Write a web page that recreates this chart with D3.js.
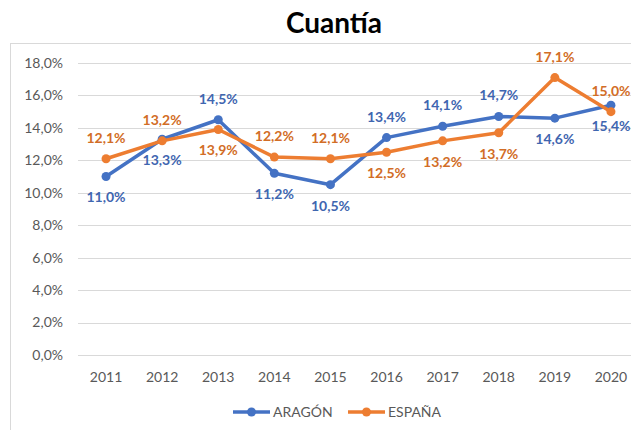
<!DOCTYPE html>
<html>
<head>
<meta charset="utf-8">
<script src="https://cdn.jsdelivr.net/npm/d3@7"></script>
<style>
  body { margin: 0; background: #fff; }
  svg { display: block; font-family: Lato, "Noto Sans", sans-serif; }
</style>
</head>
<body>
<div id="chart"></div>
<script>
//chart data
const years = ['2011','2012','2013','2014','2015','2016','2017','2018','2019','2020'];
const aragon = [11.0, 13.3, 14.5, 11.2, 10.5, 13.4, 14.1, 14.7, 14.6, 15.4];
const espana = [12.1, 13.2, 13.9, 12.2, 12.1, 12.5, 13.2, 13.7, 17.1, 15.0];
//label placement: 1 = above, -1 = below
const aragonLabelPos = [-1, -1, 1, -1, -1, 1, 1, 1, -1, -1];
const espanaLabelPos = [1, 1, -1, 1, 1, -1, -1, -1, 1, 1];
const yTicks = [0, 2, 4, 6, 8, 10, 12, 14, 16, 18];

const W = 631, H = 430;
const fmt = v => d3.format('.1f')(v).replace('.', ',') + '%';

const svg = d3.select('#chart').append('svg')
    .attr('width', W).attr('height', H);

//chart area border
svg.append('rect')
    .attr('x', 10.5).attr('y', 43.5)
    .attr('width', 640).attr('height', 400)
    .attr('fill', 'none').attr('stroke', '#d9d9d9');

//title
svg.append('text')
    .attr('x', 334).attr('y', 33)
    .attr('text-anchor', 'middle')
    .style('font-size', '28px').style('font-weight', 'bold')
    .attr('fill', '#000')
    .text('Cuantía');

const x = d3.scalePoint().domain(years).range([78, 639]).padding(0.5);
const y = d3.scaleLinear().domain([0, 18]).range([355, 63]);

//gridlines
svg.append('g').selectAll('line')
    .data(yTicks)
  .enter().append('line')
    .attr('x1', 78).attr('x2', 640)
    .attr('y1', d => Math.round(y(d)) + 0.5)
    .attr('y2', d => Math.round(y(d)) + 0.5)
    .attr('stroke', '#d9d9d9').attr('stroke-width', 1);

//y axis labels
svg.append('g').selectAll('text')
    .data(yTicks)
  .enter().append('text')
    .attr('x', 63).attr('y', d => y(d))
    .attr('dy', '0.35em')
    .attr('text-anchor', 'end')
    .style('font-size', '14px')
    .attr('fill', '#595959')
    .text(d => fmt(d));

//x axis labels
svg.append('g').selectAll('text')
    .data(years)
  .enter().append('text')
    .attr('x', d => x(d)).attr('y', 377)
    .attr('dy', '0.35em')
    .attr('text-anchor', 'middle')
    .style('font-size', '14px')
    .attr('fill', '#595959')
    .text(d => d);

const series = [
    { name: 'ARAGÓN', values: aragon, pos: aragonLabelPos, color: '#4472c4', labelColor: '#3f66b0' },
    { name: 'ESPAÑA', values: espana, pos: espanaLabelPos, color: '#ed7d31', labelColor: '#d26d26' }
];

const line = d3.line()
    .x((d, i) => x(years[i]))
    .y(d => y(d));

series.forEach(function(s) {
    const g = svg.append('g');
    g.append('path')
        .attr('d', line(s.values))
        .attr('fill', 'none')
        .attr('stroke', s.color)
        .attr('stroke-width', 3.5)
        .attr('stroke-linejoin', 'round');
    g.selectAll('circle')
        .data(s.values)
      .enter().append('circle')
        .attr('cx', (d, i) => x(years[i]))
        .attr('cy', d => y(d))
        .attr('r', 4.5)
        .attr('fill', s.color);
});

//data labels drawn on top
series.forEach(function(s) {
    svg.append('g').selectAll('text')
        .data(s.values)
      .enter().append('text')
        .attr('x', (d, i) => x(years[i]))
        .attr('y', (d, i) => y(d) - s.pos[i] * 21)
        .attr('dy', '0.35em')
        .attr('text-anchor', 'middle')
        .style('font-size', '14px').style('font-weight', 'bold')
        .attr('fill', s.labelColor)
        .text(d => fmt(d));
});

//legend
const legend = [
    { name: 'ARAGÓN', color: '#4472c4', x0: 233 },
    { name: 'ESPAÑA', color: '#ed7d31', x0: 348 }
];
const lg = svg.append('g');
legend.forEach(function(l) {
    lg.append('line')
        .attr('x1', l.x0).attr('x2', l.x0 + 37)
        .attr('y1', 412).attr('y2', 412)
        .attr('stroke', l.color).attr('stroke-width', 3.5);
    lg.append('circle')
        .attr('cx', l.x0 + 18.5).attr('cy', 412).attr('r', 4.5)
        .attr('fill', l.color);
    lg.append('text')
        .attr('x', l.x0 + 40).attr('y', 412)
        .attr('dy', '0.35em')
        .style('font-size', '14px')
        .attr('fill', '#595959')
        .text(l.name);
});
</script>
</body>
</html>
